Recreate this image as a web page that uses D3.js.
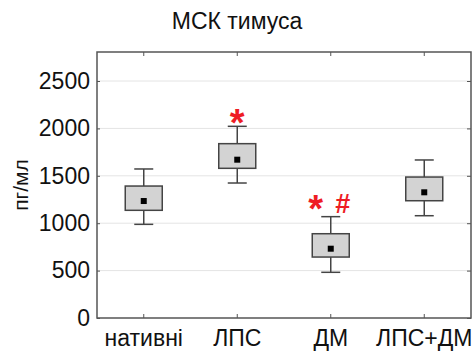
<!DOCTYPE html>
<html><head><meta charset="utf-8">
<script src="https://cdn.jsdelivr.net/npm/d3@7"></script>
<style>body{margin:0;background:#fff}text{font-family:Arial,"Liberation Sans",sans-serif}</style>
</head><body><svg id="c" width="476" height="357"></svg>
<script>
const categories = ["нативні","ЛПС","ДМ","ЛПС+ДМ"];
const whiskerLow = [988, 1424, 482, 1079];
const boxLow = [1136, 1579, 643, 1237];
const means = [1234, 1670, 731, 1326];
const boxHigh = [1392, 1839, 889, 1487];
const whiskerHigh = [1572, 2022, 1069, 1667];
const yTicks = [0, 500, 1000, 1500, 2000, 2500];
const marks = [{cat:"ЛПС", text:"*"}, {cat:"ДМ", text:"*"}, {cat:"ДМ", text:"#"}];

const svg = d3.select("#c");
const L=97, R=471, T=52, B=318;
const x = d3.scaleBand().domain(categories).range([L,R]);
const y = d3.scaleLinear().domain([0,2806]).range([B,T]);

// grid
svg.append("g").selectAll("line").data(yTicks.filter(d=>d>0)).join("line")
  .attr("x1",L).attr("x2",R).attr("y1",d=>y(d)).attr("y2",d=>y(d))
  .attr("stroke","#e4e4e4").attr("stroke-width",1);

// axes
const axL = svg.append("g").attr("transform",`translate(${L},0)`)
  .call(d3.axisLeft(y).tickValues(yTicks).tickSize(-3).tickPadding(7).tickFormat(d3.format("d")));
axL.selectAll("text").attr("font-size",23).attr("fill","#111");
svg.append("g").attr("transform",`translate(${R},0)`)
  .call(d3.axisLeft(y).tickValues(yTicks).tickSize(4).tickFormat(""));
svg.append("g").attr("transform",`translate(0,${B})`)
  .call(d3.axisTop(x).tickSize(4).tickFormat(""));
const axB2 = svg.append("g").attr("transform",`translate(0,${B})`)
  .call(d3.axisBottom(x).tickSize(0).tickPadding(12));
axB2.selectAll("text").attr("font-size",23).attr("fill","#111");
svg.append("g").attr("transform",`translate(0,${T})`)
  .call(d3.axisBottom(x).tickSize(4).tickFormat(""));
svg.selectAll(".domain").remove();
svg.selectAll(".tick line").attr("stroke","#555");
svg.append("rect").attr("x",L).attr("y",T).attr("width",R-L).attr("height",B-T)
  .attr("fill","none").attr("stroke","#555").attr("stroke-width",1.5);

// boxes
const g = svg.append("g");
const bw = 37, cw = 19;
categories.forEach((c,i)=>{
  const cx = x(c)+x.bandwidth()/2;
  const s = "#444";
  g.append("line").attr("x1",cx).attr("x2",cx).attr("y1",y(whiskerHigh[i])).attr("y2",y(boxHigh[i])).attr("stroke",s).attr("stroke-width",1.5);
  g.append("line").attr("x1",cx).attr("x2",cx).attr("y1",y(boxLow[i])).attr("y2",y(whiskerLow[i])).attr("stroke",s).attr("stroke-width",1.5);
  g.append("line").attr("x1",cx-cw/2).attr("x2",cx+cw/2).attr("y1",y(whiskerHigh[i])).attr("y2",y(whiskerHigh[i])).attr("stroke",s).attr("stroke-width",1.5);
  g.append("line").attr("x1",cx-cw/2).attr("x2",cx+cw/2).attr("y1",y(whiskerLow[i])).attr("y2",y(whiskerLow[i])).attr("stroke",s).attr("stroke-width",1.5);
  g.append("rect").attr("x",cx-bw/2).attr("width",bw).attr("y",y(boxHigh[i])).attr("height",y(boxLow[i])-y(boxHigh[i]))
    .attr("fill","#d3d3d3").attr("stroke",s).attr("stroke-width",1.5);
  g.append("rect").attr("x",cx-3).attr("y",y(means[i])-3).attr("width",6).attr("height",6).attr("fill","#000");
});

// significance marks
marks.forEach((m,k)=>{
  const i = categories.indexOf(m.cat);
  const same = marks.filter(o=>o.cat===m.cat);
  const j = same.indexOf(m);
  const single = same.length===1;
  const dx = single ? 0 : (j===0 ? -15 : 12);
  const cx = x(m.cat)+x.bandwidth()/2 + dx;
  const star = m.text==="*";
  const off = star ? (single ? 10 : 5) : -4;
  svg.append("text").attr("x",cx).attr("y",y(whiskerHigh[i]) + off)
    .attr("text-anchor","middle").attr("font-size",star?38:27).attr("font-weight","bold")
    .attr("fill","#ee1c24").text(m.text);
});

// title & y label
svg.append("text").attr("x",237).attr("y",29).attr("text-anchor","middle").attr("font-size",23).attr("fill","#111").text("МСК тимуса");
svg.append("text").attr("transform","translate(28,185) rotate(-90)").attr("text-anchor","middle").attr("font-size",21).attr("fill","#111").text("пг/мл");
</script></body></html>
